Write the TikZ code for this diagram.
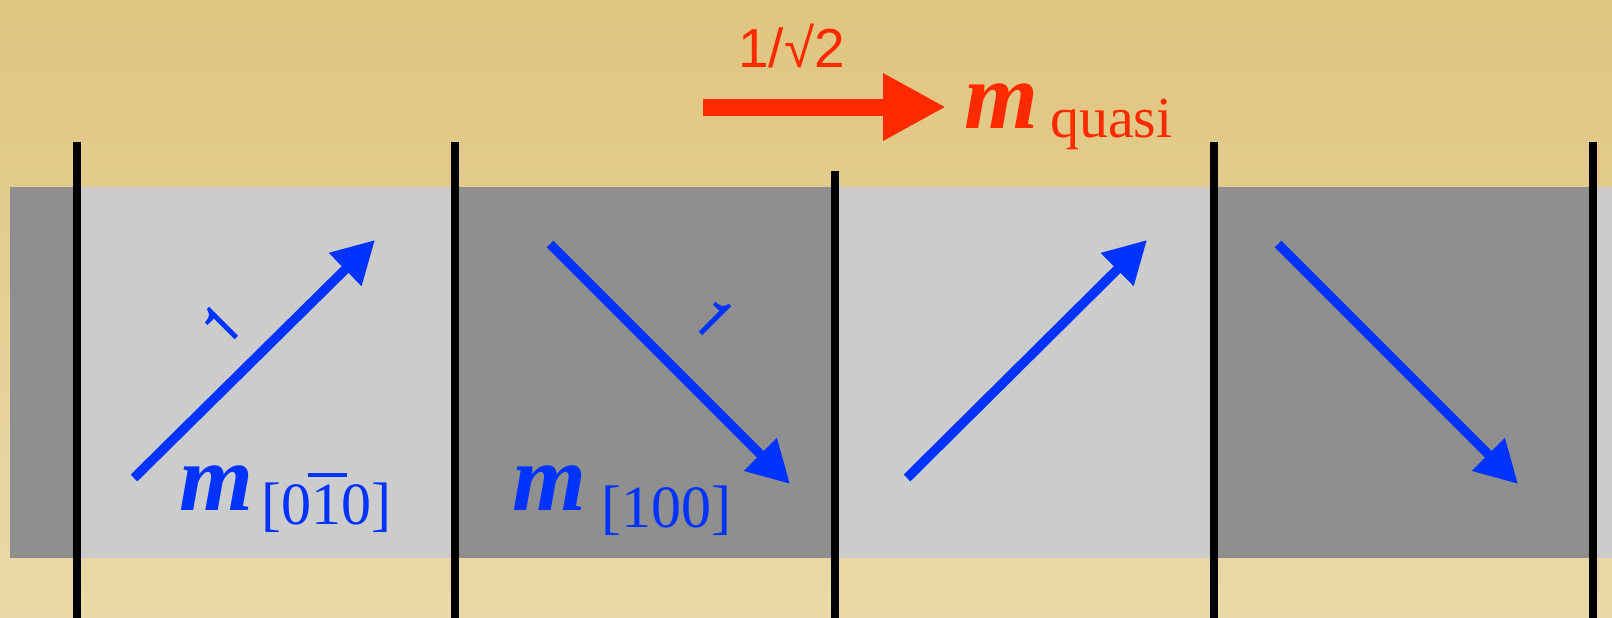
\documentclass[tikz,border=0pt]{standalone}
\usepackage{fontspec}
\setmainfont{Liberation Serif}
\newfontfamily\sansf{Liberation Sans}
\newfontfamily\helv{TeX Gyre Heros}
\usetikzlibrary{arrows.meta}
\definecolor{bgtop}{RGB}{224,197,128}
\definecolor{bgbot}{RGB}{234,217,168}
\definecolor{darkband}{RGB}{143,143,143}
\definecolor{lightband}{RGB}{204,204,204}
\definecolor{mblue}{RGB}{0,51,255}
\definecolor{mred}{RGB}{255,42,0}
\newcommand{\barone}{\rlap{\hspace{-0.06em}\rule[0.78em]{0.66em}{0.075em}}1}
\tikzset{
  wall/.style={line width=8pt, black},
  marrow/.style={line width=9.5pt, mblue, -{Triangle[length=42pt,width=44pt]}},
  qarrow/.style={line width=17pt, mred, -{Triangle[length=63pt,width=63pt]}},
  lbl/.style={inner sep=0pt, anchor=base west},
  mfont/.style={font=\fontsize{95}{95}\selectfont\bfseries\itshape},
  subfont/.style={font=\fontsize{60}{60}\selectfont},
  onelbl/.style={inner sep=0pt, text=mblue, font=\helv\fontsize{58}{58}\selectfont},
}
\begin{document}
\begin{tikzpicture}[x=1pt,y=-1pt]
\useasboundingbox (0,0) rectangle (1612,618);
\shade[top color=bgtop, bottom color=bgbot] (0,0) rectangle (1612,618);
% band
\fill[darkband] (10,187) rectangle (77,558);
\fill[lightband] (77,187) rectangle (455,558);
\fill[darkband] (455,187) rectangle (835,558);
\fill[lightband] (835,187) rectangle (1214,558);
\fill[darkband] (1214,187) rectangle (1593,558);
\fill[lightband] (1593,187) rectangle (1612,558);
% walls
\coordinate (w1t) at (77,142); \coordinate (w1b) at (77,618);
\coordinate (w2t) at (455,142); \coordinate (w2b) at (455,618);
\coordinate (w3t) at (835,171); \coordinate (w3b) at (835,618);
\coordinate (w4t) at (1214,142); \coordinate (w4b) at (1214,618);
\coordinate (w5t) at (1593,142); \coordinate (w5b) at (1593,618);
\foreach \i in {1,...,5} \draw[wall] (w\i t) -- (w\i b);
% magnetization arrows
\coordinate (a1s) at (134,478); \coordinate (a1e) at (375,240);
\coordinate (a2s) at (550,244); \coordinate (a2e) at (790,484);
\coordinate (a3s) at (907,478); \coordinate (a3e) at (1147,240);
\coordinate (a4s) at (1278,244); \coordinate (a4e) at (1518,484);
\draw[marrow] (a1s) -- (a1e);
\draw[marrow] (a2s) -- (a2e);
\draw[marrow] (a3s) -- (a3e);
\draw[marrow] (a4s) -- (a4e);
\node[onelbl, rotate=45] (one1) at (221,325) {1};
\node[onelbl, rotate=-45] (one2) at (714,318) {1};
% labels
\node[lbl, text=mblue, mfont] (m1) at (179,510) {m};
\node[lbl, text=mblue, subfont] (s1) at (261,524) {[0\barone0]};
\node[lbl, text=mblue, mfont] (m2) at (512,510) {m};
\node[lbl, text=mblue, subfont] (s2) at (601,527) {[100]};
% quasi
\coordinate (qs) at (703,107); \coordinate (qe) at (946,107);
\draw[qarrow] (qs) -- (qe);
\node[lbl, text=mred, font=\sansf\fontsize{55}{55}\selectfont] (frac) at (738,67) {1/√2};
\node[lbl, text=mred, mfont] (mq) at (964,128) {m};
\node[lbl, text=mred, font=\fontsize{58}{58}\selectfont] (sq) at (1050,137) {quasi};
\end{tikzpicture}
\end{document}
